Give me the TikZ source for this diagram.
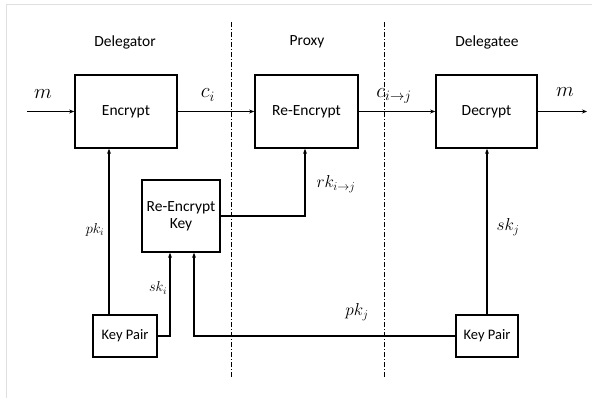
\documentclass[tikz,border=0pt]{standalone}
\usepackage{fontspec}
\setmainfont{Carlito}
\usetikzlibrary{arrows.meta}
\begin{document}
\begin{tikzpicture}[x=1pt,y=-1pt,
  blk/.style={draw,line width=1.7pt,minimum height=73pt,inner sep=0pt,font=\fontsize{15.5}{18}\selectfont},
  kbox/.style={draw,line width=1.7pt,minimum height=42pt,inner sep=0pt,font=\fontsize{14.5}{17}\selectfont},
  conn/.style={line width=1.4pt,-{Stealth[length=5pt,width=4pt]}},
  sep/.style={line width=1pt,dash pattern=on 5pt off 2pt on 1pt off 2pt},
  ttl/.style={font=\fontsize{15.5}{18}\selectfont},
  lbl/.style={font=\fontsize{20}{22}\selectfont}]
\useasboundingbox (0,0) rectangle (592,398);
\draw[gray!25,line width=0.8pt] (592,4) -- (6,4) -- (6,398);
% section titles
\node[ttl] (tdel) at (125,42) {Delegator};
\node[ttl] (tpro) at (307,42) {Proxy};
\node[ttl] (tdee) at (487,42) {Delegatee};
% separators
\coordinate (s1a) at (231,22); \coordinate (s1b) at (231,377);
\coordinate (s2a) at (384,22); \coordinate (s2b) at (384,377);
\draw[sep] (s1a) -- (s1b);
\draw[sep] (s2a) -- (s2b);
% boxes
\node[blk,minimum width=102pt] (enc) at (126,111.5) {Encrypt};
\node[blk,minimum width=103pt] (renc) at (306.5,111.5) {Re-Encrypt};
\node[blk,minimum width=101pt] (dec) at (486.5,111.5) {Decrypt};
\node[blk,minimum width=78pt,minimum height=72pt,align=center] (rk) at (181,216) {Re-Encrypt\\[-1pt]Key};
\node[kbox,minimum width=64pt] (kpl) at (125,336) {Key Pair};
\node[kbox,minimum width=62pt] (kpr) at (487,336) {Key Pair};
% inputs/outputs
\coordinate (in) at (27,111.5);
\coordinate (out) at (587,111.5);
\draw[conn] (in) -- (enc.west);
\draw[conn] (enc.east) -- (renc.west);
\draw[conn] (renc.east) -- (dec.west);
\draw[conn] (dec.east) -- (out);
% key connections
\draw[conn] ([xshift=-16pt]kpl.north) -- ([xshift=-16pt]kpl.north |- enc.south);
\draw[conn] (kpl.east) -| ([xshift=-11pt]rk.south);
\draw[conn] (kpr.west) -| ([xshift=13pt]rk.south);
\draw[conn] (kpr.north) -- (kpr.north |- dec.south);
\draw[conn] (rk.east) -| ([xshift=-1.5pt]renc.south);
% labels
\node[lbl] (lm1) at (43,94) {$m$};
\node[lbl] (lci) at (208,95) {$c_i$};
\node[lbl] (lcij) at (394,96) {$c_{i\to j}$};
\node[lbl] (lm2) at (565,92) {$m$};
\node[font=\fontsize{14}{16}\selectfont] (lpki) at (95,230) {$pk_i$};
\node[font=\fontsize{14}{16}\selectfont] (lski) at (158,288) {$sk_i$};
\node[font=\fontsize{17}{19}\selectfont] (lrk) at (336,184) {$rk_{i\to j}$};
\node[font=\fontsize{17}{19}\selectfont] (lskj) at (508,227) {$sk_j$};
\node[font=\fontsize{17}{19}\selectfont] (lpkj) at (357,312) {$pk_j$};
\end{tikzpicture}
\end{document}
